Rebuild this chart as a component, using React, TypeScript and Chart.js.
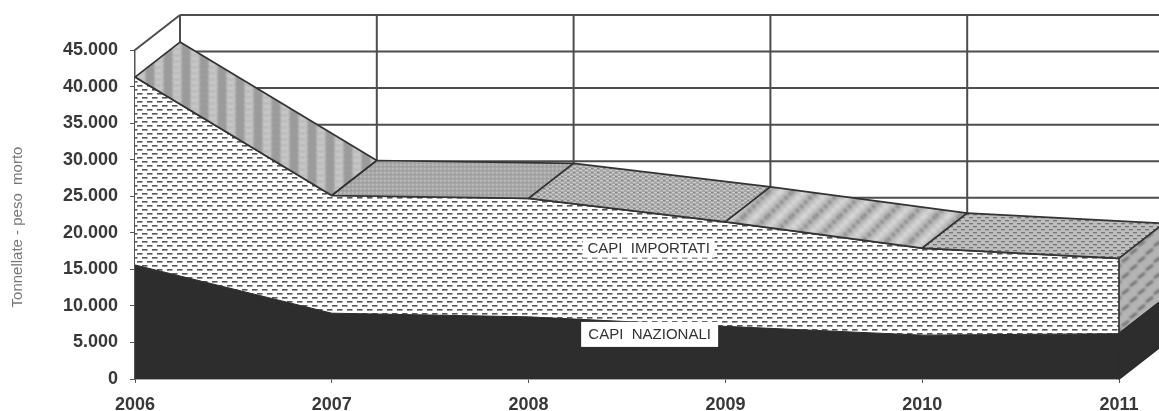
import React, { useEffect, useRef } from "react";
import { Chart, registerables } from "chart.js";

Chart.register(...registerables);

const years = ["2006", "2007", "2008", "2009", "2010", "2011"];
const capiNazionali = [15600, 9000, 8500, 7200, 6000, 6200];
const capiImportati = [25700, 16100, 16200, 14300, 11900, 10300];
const yTitle = "Tonnellate - peso  morto      ";
const areaNotes = [
  { text: "CAPI  IMPORTATI", at: 2.61, value: 17900, w: 132, h: 19 },
  { text: "CAPI  NAZIONALI", at: 2.615, value: 6100, w: 137, h: 25 },
];

const DEPTH_X = 45;
const DEPTH_Y = -35;
const FONT = '"Liberation Sans", Arial, sans-serif';

function makeTile(
  w: number,
  h: number,
  base: string,
  blur: number,
  draw: (c: CanvasRenderingContext2D) => void
) {
  const off = document.createElement("canvas");
  off.width = w;
  off.height = h;
  const c = off.getContext("2d")!;
  c.fillStyle = base;
  c.fillRect(0, 0, w, h);
  (c as any).filter = `blur(${blur}px)`;
  for (const dx of [-w, 0, w]) {
    for (const dy of [-h, 0, h]) {
      c.save();
      c.translate(dx, dy);
      draw(c);
      c.restore();
    }
  }
  return c.createPattern(off, "repeat")!;
}

function dash(c: CanvasRenderingContext2D, color: string, x: number, y: number, w: number, h: number) {
  c.fillStyle = color;
  c.fillRect(x, y, w, h);
}

function buildPatterns() {
  const dashes = makeTile(10, 8, "#ffffff", 0.6, (c) => {
    dash(c, "#555555", 2, 1, 5.5, 1.6);
    dash(c, "#555555", 7, 5, 5.5, 1.6);
  });
  const stripes = makeTile(18, 6, "#c2c2c2", 1.1, (c) => {
    dash(c, "#9b9b9b", 2, -2, 8, 10);
    dash(c, "#b0b0b0", 11, 1, 6, 1);
    dash(c, "#d6d6d6", 12, 4, 5, 1);
  });
  const fine = makeTile(4, 4, "#a8a8a8", 0.4, (c) => {
    dash(c, "#bebebe", 0, 0, 1.5, 1.5);
    dash(c, "#969696", 2, 2, 1.5, 1.5);
  });
  const speck = makeTile(6, 4, "#a6a6a6", 0.45, (c) => {
    dash(c, "#cbcbcb", 0, 0, 3, 1.2);
    dash(c, "#cbcbcb", 3, 2, 3, 1.2);
    dash(c, "#858585", 3, 0, 2, 1);
  });
  const woven = makeTile(24, 24, "#c0c0c0", 1.4, (c) => {
    c.strokeStyle = "#787878";
    c.lineWidth = 4.5;
    c.setLineDash([3, 3]);
    c.beginPath();
    c.moveTo(0, 24);
    c.lineTo(24, 0);
    c.stroke();
    c.strokeStyle = "#dadada";
    c.lineWidth = 4;
    c.beginPath();
    c.moveTo(-12, 24);
    c.lineTo(12, 0);
    c.moveTo(12, 24);
    c.lineTo(36, 0);
    c.stroke();
    c.setLineDash([]);
  });
  const stipple = makeTile(8, 6, "#bdbdbd", 0.55, (c) => {
    dash(c, "#767676", 1, 1, 4, 1.3);
    dash(c, "#767676", 5, 4, 4, 1.3);
  });
  const side = makeTile(16, 16, "#b4b4b4", 0.9, (c) => {
    c.strokeStyle = "#6a6a6a";
    c.lineWidth = 2.5;
    c.beginPath();
    c.moveTo(2, 6);
    c.lineTo(9, 1);
    c.moveTo(10, 14);
    c.lineTo(17, 9);
    c.stroke();
  });
  return { dashes, tops: [stripes, fine, speck, woven, stipple], side };
}

export default function App() {
  const ref = useRef<HTMLCanvasElement>(null);

  useEffect(() => {
    const p = buildPatterns();

    const depthPlugin = {
      id: "depth",
      beforeDatasetsDraw(chart: any) {
        const { ctx, scales } = chart;
        const xs = scales.x;
        const ys = scales.y;
        const bottom = ys.getPixelForValue(0);
        const lastX = xs.getPixelForValue(years.length - 1);
        ctx.save();
        ctx.strokeStyle = "#4d4d4d";
        ctx.lineWidth = 2;
        ys.ticks.forEach((t: any) => {
          const y = ys.getPixelForValue(t.value) + DEPTH_Y;
          ctx.beginPath();
          ctx.moveTo(xs.getPixelForValue(0) + DEPTH_X, y);
          ctx.lineTo(lastX + DEPTH_X, y);
          ctx.stroke();
        });
        years.forEach((_, i) => {
          const x = xs.getPixelForValue(i) + DEPTH_X;
          ctx.beginPath();
          ctx.moveTo(x, ys.getPixelForValue(45000) + DEPTH_Y);
          ctx.lineTo(x, bottom + DEPTH_Y);
          ctx.stroke();
        });
        const left = xs.getPixelForValue(0);
        const top = ys.getPixelForValue(45000);
        ctx.beginPath();
        ctx.moveTo(left, top);
        ctx.lineTo(left + DEPTH_X, top + DEPTH_Y);
        ctx.stroke();
        ctx.restore();
      },
      afterDatasetsDraw(chart: any) {
        const { ctx, scales } = chart;
        const xs = scales.x;
        const ys = scales.y;
        const totalAt = (i: number) => capiNazionali[i] + capiImportati[i];
        const quad = (pts: number[][], fill: any, stroke = "#333333") => {
          ctx.beginPath();
          pts.forEach(([x, y], k) => (k ? ctx.lineTo(x, y) : ctx.moveTo(x, y)));
          ctx.closePath();
          ctx.fillStyle = fill;
          ctx.fill();
          ctx.strokeStyle = stroke;
          ctx.lineWidth = 1.7;
          ctx.lineJoin = "round";
          ctx.stroke();
        };
        ctx.save();
        // top faces of the stacked band, one per year interval
        for (let i = 0; i < years.length - 1; i++) {
          const x0 = xs.getPixelForValue(i);
          const x1 = xs.getPixelForValue(i + 1);
          const y0 = ys.getPixelForValue(totalAt(i));
          const y1 = ys.getPixelForValue(totalAt(i + 1));
          quad(
            [
              [x0, y0],
              [x1, y1],
              [x1 + DEPTH_X, y1 + DEPTH_Y],
              [x0 + DEPTH_X, y0 + DEPTH_Y],
            ],
            p.tops[i]
          );
        }
        // right-hand end faces
        const n = years.length - 1;
        const xe = xs.getPixelForValue(n);
        const yTotal = ys.getPixelForValue(totalAt(n));
        const yNaz = ys.getPixelForValue(capiNazionali[n]);
        const yZero = ys.getPixelForValue(0);
        quad(
          [
            [xe, yTotal],
            [xe + DEPTH_X, yTotal + DEPTH_Y],
            [xe + DEPTH_X, yNaz + DEPTH_Y],
            [xe, yNaz],
          ],
          p.side
        );
        quad(
          [
            [xe, yNaz],
            [xe + DEPTH_X, yNaz + DEPTH_Y],
            [xe + DEPTH_X, yZero + DEPTH_Y],
            [xe, yZero],
          ],
          "#2d2d2d",
          "#2d2d2d"
        );
        // area name plates
        ctx.textAlign = "center";
        ctx.textBaseline = "middle";
        ctx.font = `15px ${FONT}`;
        areaNotes.forEach((a) => {
          const cx = xs.getPixelForValue(a.at);
          const cy = ys.getPixelForValue(a.value);
          ctx.fillStyle = "#ffffff";
          ctx.fillRect(cx - a.w / 2, cy - a.h / 2, a.w, a.h);
          ctx.fillStyle = "#333333";
          ctx.fillText(a.text, cx, cy + 0.5);
        });
        ctx.restore();
      },
    };

    const chart = new Chart(ref.current!, {
      type: "line",
      data: {
        labels: years,
        datasets: [
          {
            label: "CAPI NAZIONALI",
            data: capiNazionali,
            stack: "a",
            fill: "origin",
            backgroundColor: "#2d2d2d",
            borderColor: "#2d2d2d",
            borderWidth: 1,
            pointRadius: 0,
            tension: 0,
          },
          {
            label: "CAPI IMPORTATI",
            data: capiImportati,
            stack: "a",
            fill: "-1",
            backgroundColor: p.dashes,
            borderColor: "#333333",
            borderWidth: 1.7,
            pointRadius: 0,
            tension: 0,
          },
        ],
      },
      options: {
        responsive: false,
        animation: false,
        devicePixelRatio: 1,
        layout: { padding: { top: 50, right: 40, left: 0, bottom: 0 } },
        plugins: { legend: { display: false }, tooltip: { enabled: false } },
        scales: {
          x: {
            offset: false,
            afterFit: (s: any) => {
              s.height = 32;
            },
            grid: { drawOnChartArea: false, drawTicks: true, tickLength: 4, color: "#555555" },
            border: { color: "#555555", width: 1.5 },
            ticks: {
              color: "#383838",
              font: { family: FONT, size: 18, weight: "bold" },
              maxRotation: 0,
              autoSkip: false,
              padding: 11,
            },
          },
          y: {
            stacked: true,
            min: 0,
            max: 45000,
            afterFit: (s: any) => {
              s.width = 135;
            },
            title: {
              display: true,
              text: yTitle,
              color: "#777777",
              font: { family: FONT, size: 15 },
              padding: { top: 9, bottom: 0 },
            },
            grid: { drawOnChartArea: false, drawTicks: true, tickLength: 5, color: "#555555" },
            border: { color: "#555555", width: 1.5 },
            ticks: {
              stepSize: 5000,
              color: "#383838",
              padding: 12,
              font: { family: FONT, size: 18, weight: "bold" },
              callback: (v: any) => Number(v).toString().replace(/\B(?=(\d{3})+$)/g, "."),
            },
          },
        },
      },
      plugins: [depthPlugin],
    } as any);
    return () => chart.destroy();
  }, []);

  return (
    <div style={{ position: "fixed", left: 0, top: 0, width: 1159, height: 411, background: "#fff", overflow: "hidden" }}>
      <canvas ref={ref} width={1159} height={411} style={{ display: "block", filter: "blur(0.4px)" }} />
    </div>
  );
}
